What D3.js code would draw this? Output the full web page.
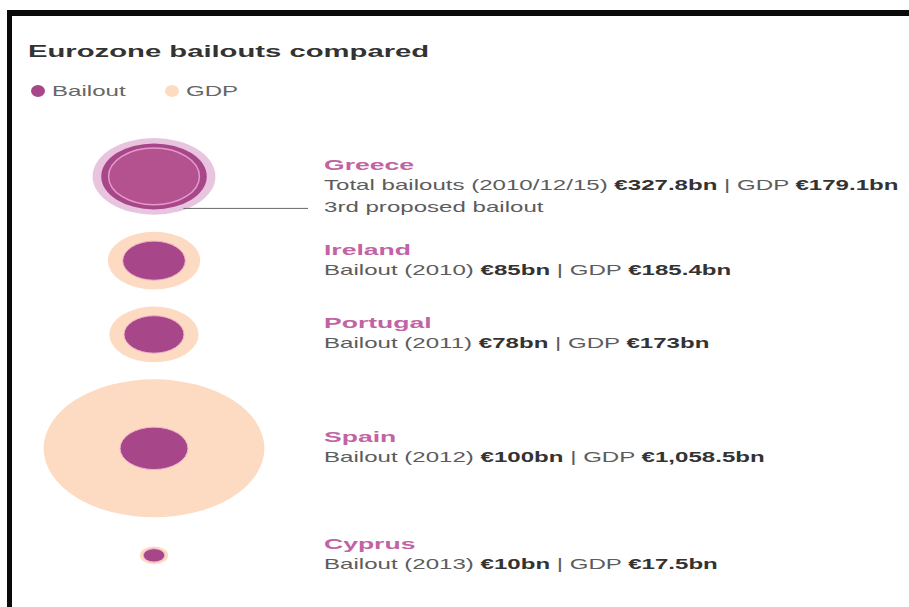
<!DOCTYPE html>
<html>
<head>
<meta charset="utf-8">
<script src="https://cdn.jsdelivr.net/npm/d3@7"></script>
<style>
  html, body { margin: 0; padding: 0; background: #fff; }
  svg { display: block; }
  text { font-family: "Liberation Sans", Arial, Helvetica, sans-serif; }
</style>
</head>
<body>
<svg id="chart" width="909" height="607"></svg>
<script>
(function () {
// ---- Data ----
const countries = ["Greece", "Ireland", "Portugal", "Spain", "Cyprus"];
const bailoutLabels = ["Total bailouts (2010/12/15)", "Bailout (2010)", "Bailout (2011)", "Bailout (2012)", "Bailout (2013)"];
const bailouts = [327.8, 85, 78, 100, 10];
const gdp = [179.1, 185.4, 173, 1058.5, 17.5];
const bailoutText = ["€327.8bn", "€85bn", "€78bn", "€100bn", "€10bn"];
const gdpText = ["€179.1bn", "€185.4bn", "€173bn", "€1,058.5bn", "€17.5bn"];
// Greece: bailouts before the 3rd proposed one (327.8 - 86)
const earlierBailouts = [241.8, null, null, null, null];
const notes = ["3rd proposed bailout", null, null, null, null];
const legendLabels = ["Bailout", "GDP"];
const titleText = "Eurozone bailouts compared";

// ---- Styles ----
const PURPLE = "#a7478a", PEACH = "#fddbc3", HALO = "#e8c4df", NAME = "#c263a3";
const STRETCH = 1.6;      // ellipse horizontal stretch
const TXT = 1.72;         // text horizontal stretch

const svg = d3.select("#chart");

// Frame
svg.append("rect").attr("x", 7).attr("y", 10).attr("width", 902).attr("height", 6).attr("fill", "#0a0a0a");
svg.append("rect").attr("x", 7).attr("y", 10).attr("width", 5).attr("height", 597).attr("fill", "#0a0a0a");

function stext(x, y, sx) {
  return svg.append("text").attr("transform", `translate(${x},${y}) scale(${sx},1)`);
}

// Title
stext(28, 57, TXT).text(titleText)
  .attr("font-size", 17).attr("font-weight", "bold").attr("fill", "#333");

// Legend
const legendColors = [PURPLE, PEACH];
const legendX = [38, 172];
legendLabels.forEach((lab, i) => {
  svg.append("ellipse").attr("cx", legendX[i]).attr("cy", 91).attr("rx", 7).attr("ry", 6)
    .attr("fill", legendColors[i]);
  stext(legendX[i] + 14, 96, TXT).text(lab).attr("font-size", 14).attr("fill", "#666");
});

// Radius scale
const r = d3.scaleSqrt().domain([0, d3.max(gdp)]).range([0, 69]);

// Row layout
const cx = 154, startY = 138, gap = 17, minHalf = 21;
const half = countries.map((c, i) => Math.max(r(bailouts[i]), r(gdp[i]), minHalf));
const cys = [];
half.forEach((h, i) => {
  cys.push(i === 0 ? startY + h : cys[i - 1] + half[i - 1] + gap + h);
});

function ell(cy, rad, fill) {
  return svg.append("ellipse").attr("cx", cx).attr("cy", cy)
    .attr("rx", rad * STRETCH).attr("ry", rad).attr("fill", fill);
}

countries.forEach((c, i) => {
  const cy = cys[i];
  const rb = r(bailouts[i]), rg = r(gdp[i]);
  if (earlierBailouts[i] != null) {
    ell(cy, rb, HALO);
    ell(cy, r(earlierBailouts[i]), PURPLE);
    ell(cy, rg, "#b4528f").attr("stroke", "#e59acb").attr("stroke-width", 1.5);
    const ly = cy + 32;
    const rr = rb - 1.5;
    const lx = cx + STRETCH * Math.sqrt(rr * rr - 32 * 32);
    svg.append("line").attr("x1", lx).attr("x2", 308).attr("y1", ly).attr("y2", ly)
      .attr("stroke", "#666").attr("stroke-width", 1);
  } else {
    ell(cy, rg, PEACH);
    ell(cy, rb, PURPLE).attr("stroke", "#f0b3c8").attr("stroke-width", 1);
  }

  stext(324, cy - 6, 1.77).text(c)
    .attr("font-size", 15).attr("font-weight", "bold").attr("fill", NAME);
  const t = stext(324, cy + 14, TXT).attr("font-size", 14).attr("fill", "#5c5c5c");
  t.append("tspan").text(bailoutLabels[i] + " ");
  t.append("tspan").text(bailoutText[i]).attr("font-weight", "bold").attr("fill", "#333");
  t.append("tspan").text(" | GDP ");
  t.append("tspan").text(gdpText[i]).attr("font-weight", "bold").attr("fill", "#333");
  if (notes[i]) {
    stext(324, cy + 36, TXT).text(notes[i]).attr("font-size", 14).attr("fill", "#5c5c5c");
  }
});
})();
</script>
</body>
</html>
